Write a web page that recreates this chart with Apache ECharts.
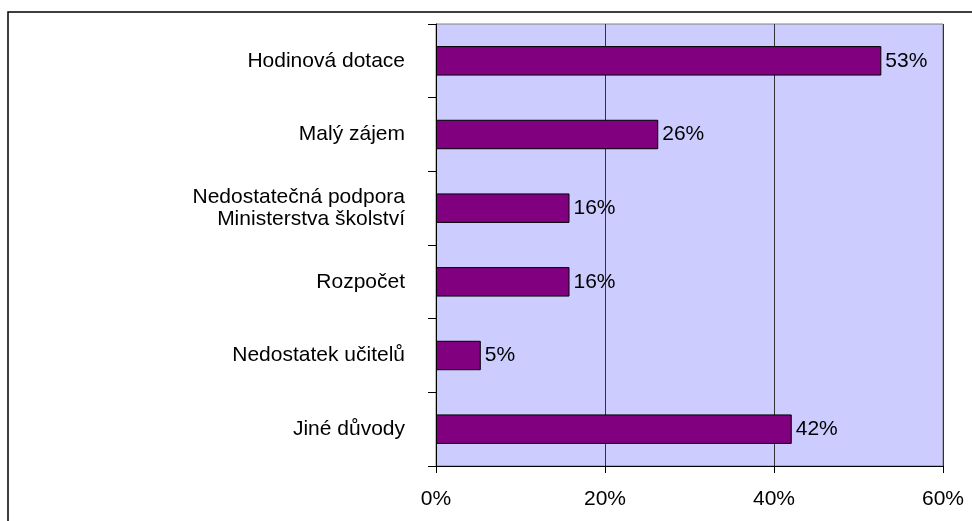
<!DOCTYPE html>
<html>
<head>
<meta charset="utf-8">
<script src="https://cdn.jsdelivr.net/npm/echarts@6/dist/echarts.min.js"></script>
<style>html,body{margin:0;padding:0;background:#fff;}#c{width:972px;height:521px;}</style>
</head>
<body>
<div id="c"></div>
<script>
const categories = ["Hodinová dotace", "Malý zájem", "Nedostatečná podpora\nMinisterstva školství", "Rozpočet", "Nedostatek učitelů", "Jiné důvody"];
const values = [52.7, 26.3, 15.8, 15.8, 5.3, 42.1];
const xTicks = [0, 20, 40, 60];

const chart = echarts.init(document.getElementById('c'));
chart.setOption({
  animation: false,
  backgroundColor: '#ffffff',
  graphic: [{
    type: 'rect', shape: {x: 8, y: 12, width: 990, height: 540},
    style: {fill: 'none', stroke: '#000', lineWidth: 1.5}, z: -1
  }],
  grid: {left: 436, right: 29, top: 24, bottom: 55, show: true, backgroundColor: '#CCCCFF', borderColor: '#808080', borderWidth: 1},
  xAxis: {
    type: 'value', min: xTicks[0], max: xTicks[xTicks.length - 1], interval: 20,
    axisLine: {show: true, lineStyle: {color: '#000', width: 1}},
    axisTick: {show: true, length: 7, lineStyle: {color: '#000'}},
    axisLabel: {formatter: '{value}%', fontSize: 21, color: '#000', fontFamily: 'Liberation Sans, Arial', margin: 23},
    splitLine: {show: true, lineStyle: {color: '#333', width: 1}}
  },
  yAxis: {
    type: 'category', inverse: true, data: categories,
    axisLine: {show: true, lineStyle: {color: '#000', width: 1}},
    axisTick: {show: true, length: 8, lineStyle: {color: '#000'}},
    axisLabel: {fontSize: 21, color: '#000', fontFamily: 'Liberation Sans, Arial', margin: 31, lineHeight: 22, align: 'right'},
    splitLine: {show: false}
  },
  series: [{
    type: 'bar', data: values, barWidth: '40%',
    itemStyle: {color: '#800080', borderColor: '#000', borderWidth: 1},
    label: {show: true, position: 'right', distance: 4, fontSize: 21, color: '#000', fontFamily: 'Liberation Sans, Arial',
      formatter: p => Math.round(p.value) + '%'}
  }]
});
</script>
</body>
</html>
